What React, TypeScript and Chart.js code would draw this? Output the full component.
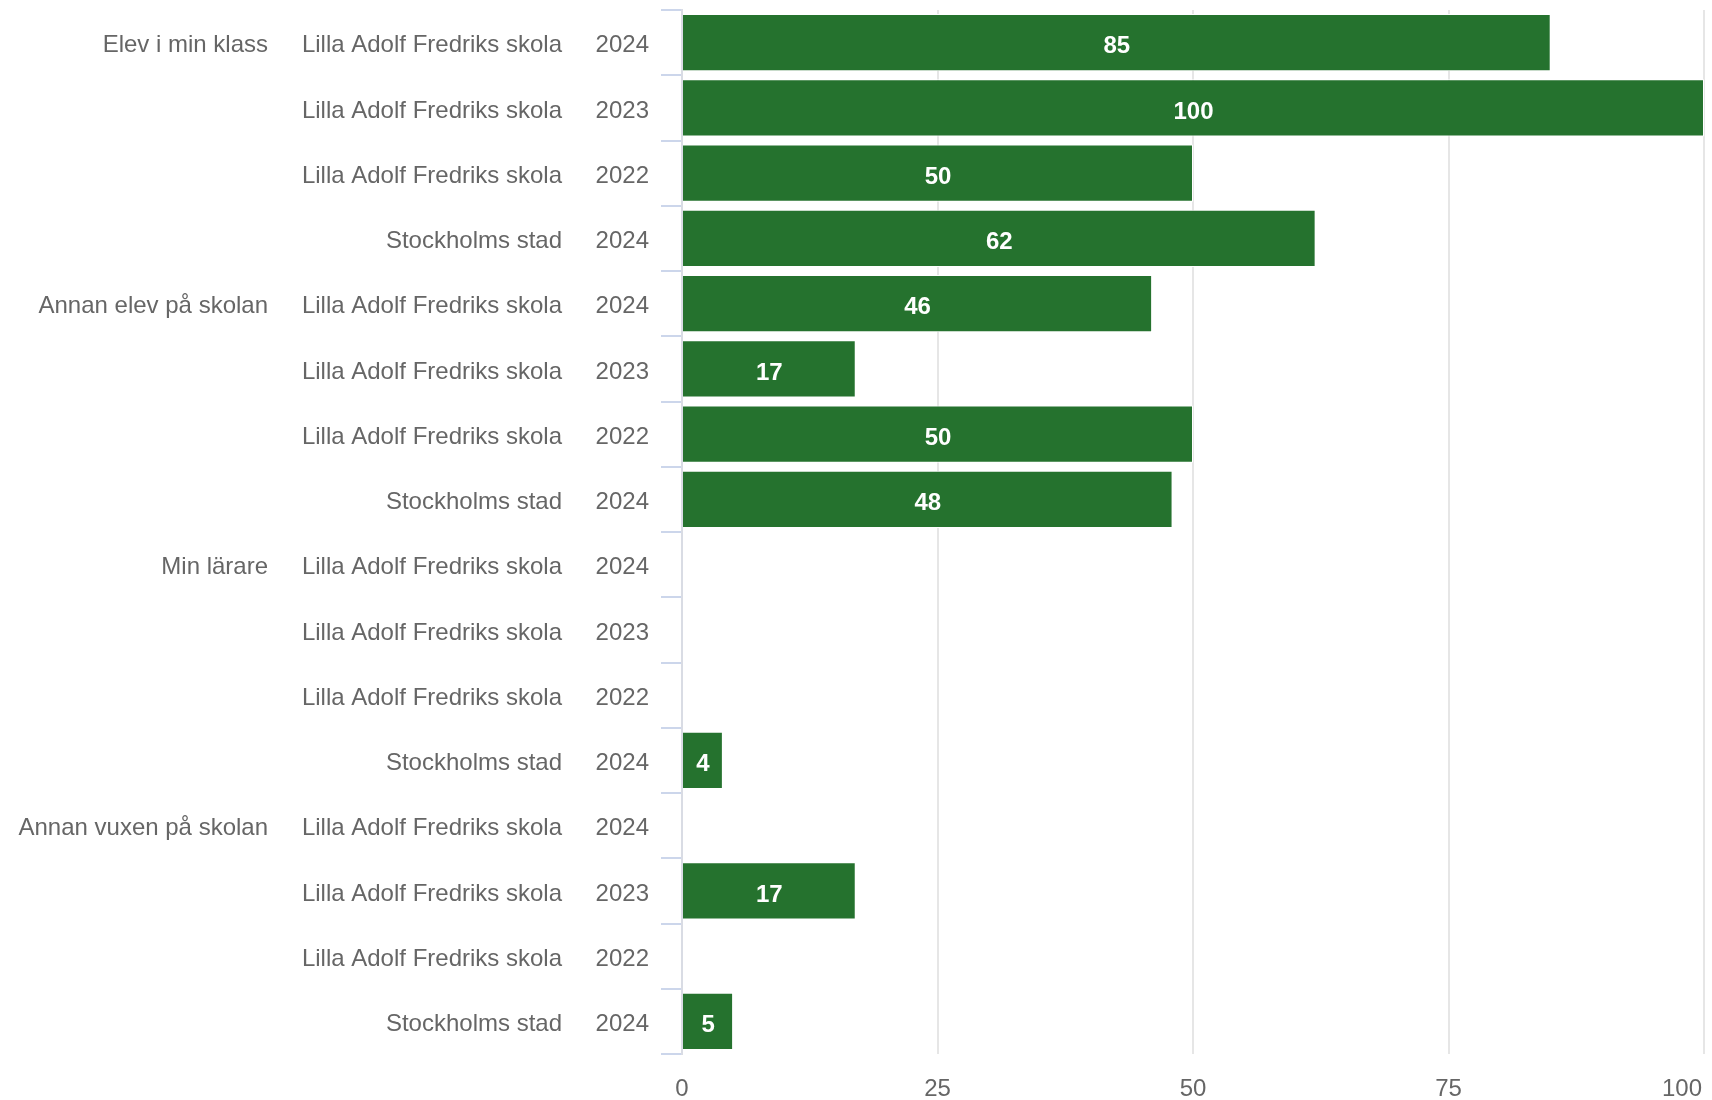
import React, { useEffect, useRef } from "react";
import { Chart, registerables } from "chart.js";

Chart.register(...registerables);

const years: string[] = [
  "2024", "2023", "2022", "2024",
  "2024", "2023", "2022", "2024",
  "2024", "2023", "2022", "2024",
  "2024", "2023", "2022", "2024",
];

const schools: string[] = [
  "Lilla Adolf Fredriks skola", "Lilla Adolf Fredriks skola", "Lilla Adolf Fredriks skola", "Stockholms stad",
  "Lilla Adolf Fredriks skola", "Lilla Adolf Fredriks skola", "Lilla Adolf Fredriks skola", "Stockholms stad",
  "Lilla Adolf Fredriks skola", "Lilla Adolf Fredriks skola", "Lilla Adolf Fredriks skola", "Stockholms stad",
  "Lilla Adolf Fredriks skola", "Lilla Adolf Fredriks skola", "Lilla Adolf Fredriks skola", "Stockholms stad",
];

const groups: string[] = [
  "Elev i min klass", "", "", "",
  "Annan elev på skolan", "", "", "",
  "Min lärare", "", "", "",
  "Annan vuxen på skolan", "", "", "",
];

const values: (number | null)[] = [
  85, 100, 50, 62,
  46, 17, 50, 48,
  null, null, null, 4,
  null, 17, null, 5,
];

const xTicks: number[] = [0, 25, 50, 75, 100];

const FONT = '"Liberation Sans", Arial, Helvetica, sans-serif';
const TEXT = "#666666";
const BAR = "#25722e";

const dataLabelPlugin = {
  id: "barValueLabels",
  afterDatasetsDraw(chart: any) {
    const ctx = chart.ctx;
    const meta = chart.getDatasetMeta(0);
    ctx.save();
    ctx.font = `bold 24px ${FONT}`;
    ctx.fillStyle = "#ffffff";
    ctx.textAlign = "center";
    ctx.textBaseline = "middle";
    meta.data.forEach((el: any, i: number) => {
      const v = values[i];
      if (v == null) return;
      const p = el.getProps(["x", "y", "base"], true);
      ctx.fillText(String(v), (p.x + p.base) / 2, p.y + 4);
    });
    ctx.restore();
  },
};

const xLabelPlugin = {
  id: "xTickLabels",
  afterDraw(chart: any) {
    const ctx = chart.ctx;
    const x = chart.scales.x;
    const area = chart.chartArea;
    ctx.save();
    ctx.font = `24px ${FONT}`;
    ctx.fillStyle = TEXT;
    ctx.textAlign = "left";
    ctx.textBaseline = "middle";
    xTicks.forEach((v) => {
      const label = String(v);
      const px = x.getPixelForValue(v);
      const w = ctx.measureText(label).width;
      let left = px - w / 2;
      if (left + w > chart.width - 10) left = chart.width - 10 - w;
      ctx.fillText(label, left, area.bottom + 35);
    });
    ctx.restore();
  },
};

export default function App() {
  const ref = useRef<HTMLCanvasElement | null>(null);

  useEffect(() => {
    document.body.style.margin = "0";
    if (!ref.current) return;
    Chart.defaults.font.family = FONT;
    const chart = new Chart(ref.current, {
      type: "bar",
      data: {
        labels: years,
        datasets: [
          {
            data: values as any,
            backgroundColor: BAR,
            borderColor: "#ffffff",
            borderWidth: 1,
            barPercentage: 0.875,
            categoryPercentage: 1,
            yAxisID: "y",
            xAxisID: "x",
          },
        ],
      },
      options: {
        indexAxis: "y",
        animation: false,
        responsive: false,
        devicePixelRatio: 1,
        layout: { padding: { top: 10, right: 8, bottom: 46, left: 0 } },
        plugins: {
          legend: { display: false },
          tooltip: { enabled: false },
          title: { display: false },
        },
        scales: {
          x: {
            type: "linear",
            position: "bottom",
            min: 0,
            max: 100,
            ticks: { display: false, stepSize: 25 },
            grid: {
              drawTicks: false,
              lineWidth: 2,
              color: (c: any) => (c.tick && c.tick.value === 0 ? "rgba(0,0,0,0)" : "#e6e6e6"),
            },
            border: { display: false },
            afterFit: (s: any) => {
              s.height = 0;
              s.paddingLeft = 0;
              s.paddingRight = 0;
            },
          },
          y: {
            type: "category",
            position: "left",
            weight: 0,
            offset: true,
            grid: {
              display: true,
              drawOnChartArea: false,
              drawTicks: true,
              tickLength: 21,
              color: "#ccd6eb",
              lineWidth: 2,
              offset: true,
            },
            border: { display: true, color: "#d9dce4", width: 2 },
            ticks: { autoSkip: false, padding: 12, labelOffset: 3, color: TEXT, font: { size: 24, family: FONT } },
            afterFit: (s: any) => {
              s.width = 109;
              s.paddingTop = 0;
              s.paddingBottom = 0;
            },
          },
          y2: {
            type: "category",
            labels: schools,
            position: "left",
            weight: 1,
            offset: true,
            grid: { display: false, drawTicks: false, drawOnChartArea: false },
            border: { display: false },
            ticks: { autoSkip: false, padding: 11, labelOffset: 3, color: TEXT, font: { size: 24, family: FONT } },
            afterFit: (s: any) => {
              s.width = 295;
              s.paddingTop = 0;
              s.paddingBottom = 0;
            },
          },
          y3: {
            type: "category",
            labels: groups,
            position: "left",
            weight: 2,
            offset: true,
            grid: { display: false, drawTicks: false, drawOnChartArea: false },
            border: { display: false },
            ticks: { autoSkip: false, padding: 10, labelOffset: 3, color: TEXT, font: { size: 24, family: FONT } },
            afterFit: (s: any) => {
              s.width = 278;
              s.paddingTop = 0;
              s.paddingBottom = 0;
            },
          },
        } as any,
      },
      plugins: [dataLabelPlugin, xLabelPlugin],
    });
    return () => chart.destroy();
  }, []);

  return (
    <div style={{ position: "absolute", left: 0, top: 0, width: 1712, height: 1100, background: "#ffffff" }}>
      <canvas ref={ref} width={1712} height={1100} style={{ width: 1712, height: 1100, display: "block" }} />
    </div>
  );
}
